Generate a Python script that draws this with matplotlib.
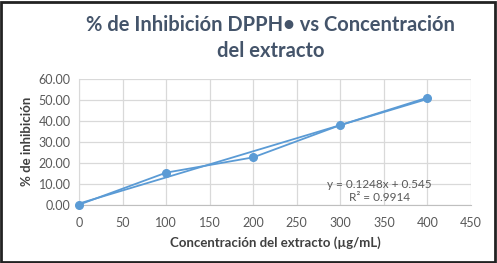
import matplotlib
matplotlib.use("Agg")
import matplotlib.pyplot as plt
from matplotlib.patches import Rectangle
import numpy as np

conc = [0, 100, 200, 300, 400]
inhib = [0.0, 15.3, 22.6, 38.0, 51.1]
trend_coef = [0.1248, 0.545]
r2 = 0.9914
xticks = [0, 50, 100, 150, 200, 250, 300, 350, 400, 450]
yticks = [0, 10, 20, 30, 40, 50, 60]

plt.rcParams['font.family'] = ['Lato', 'DejaVu Sans']

fig = plt.figure(figsize=(4.97, 2.63), dpi=100)
ax = fig.add_axes([79/497, 1-204.7/263, (471-79)/497, (204.7-79)/263])

blue = '#5B9BD5'
ax.plot(conc, inhib, color=blue, lw=1.3, marker='o', ms=5.5, zorder=3, clip_on=False)
tx = np.array([conc[0], conc[-1]])
ax.plot(tx, trend_coef[0]*tx + trend_coef[1], color=blue, lw=1.3, zorder=2)

ax.set_xlim(0, 450)
ax.set_ylim(0, 60)
ax.set_xticks(xticks)
ax.set_yticks(yticks)
ax.set_yticklabels([f"{v:.2f}" for v in yticks])
ax.grid(True, color='#D9D9D9', lw=0.9)
ax.set_axisbelow(True)
for s in ['top', 'right']:
    ax.spines[s].set_visible(False)
ax.spines['left'].set_color('#D9D9D9')
ax.spines['bottom'].set_color('#BFBFBF')
ax.tick_params(length=0, colors='#595959', labelsize=9)
ax.tick_params(axis='x', pad=9)
ax.tick_params(axis='y', pad=6)

ax.set_xlabel('Concentración del extracto (µg/mL)', fontsize=9.5, fontweight='bold',
              color='#404040', labelpad=5)
ax.set_ylabel('% de inhibición', fontsize=9.5, fontweight='bold', color='#404040', labelpad=4)

ax.text(345, 6.6, f"y = {trend_coef[0]}x + {trend_coef[1]}\nR² = {r2}", ha='center', va='center',
        fontsize=8.5, color='#595959', linespacing=1.15)

fig.text(0.545, 0.855, '% de Inhibición DPPH\u2022 vs Concentración\ndel extracto', ha='center', va='center',
         fontsize=14.5, fontweight='bold', color='#44546A', linespacing=1.35)

fig.patches.append(Rectangle((0.002, 0.004), 0.994, 0.99, transform=fig.transFigure,
                             fill=False, edgecolor='#222222', lw=2))

fig.savefig('out.png', dpi=100)
